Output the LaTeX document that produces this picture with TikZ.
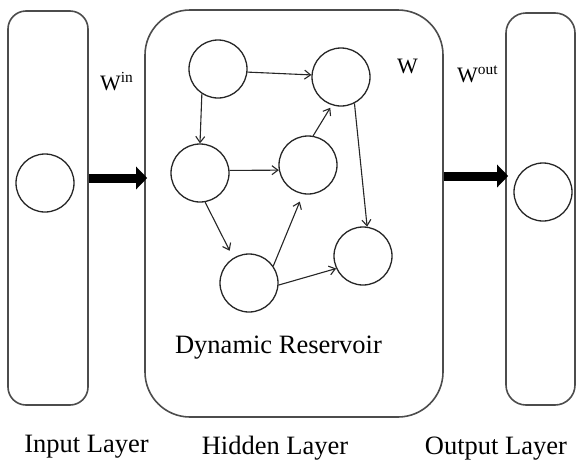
\documentclass[tikz,border=0pt]{standalone}
\usepackage{fontspec}
\setmainfont{Liberation Serif}
\usetikzlibrary{arrows.meta}
\begin{document}
\begin{tikzpicture}[x=1pt,y=-1pt,
  layer/.style={draw=black!70, line width=1.6pt, inner sep=0pt},
  neuron/.style={circle, draw=black!85, line width=1.3pt, minimum size=58pt, inner sep=0pt},
  link/.style={draw=black!85, line width=1.1pt, -{Straight Barb[length=6pt,width=9pt]}},
  bigarrow/.style={line width=9pt, -{Triangle[length=11pt,width=22pt]}, shorten >=-3pt},
  lab/.style={font=\fontsize{26.5}{30}\selectfont, anchor=base, inner sep=0pt},
  wlab/.style={font=\fontsize{22}{26}\selectfont, anchor=base west, inner sep=0pt}]
\useasboundingbox (0,0) rectangle (580,461);

% layer boxes
\node[layer, rounded corners=18pt, minimum width=80pt, minimum height=394pt] (inbox) at (48,208) {};
\node[layer, rounded corners=45pt, minimum width=298pt, minimum height=407pt] (hidbox) at (294,213.5) {};
\node[layer, rounded corners=20pt, minimum width=69pt, minimum height=392pt] (outbox) at (540.5,209) {};

% input / output neurons
\node[neuron] (in) at (45,183) {};
\node[neuron] (out) at (543,192) {};

% reservoir neurons
\node[neuron] (A) at (218,69) {};
\node[neuron] (B) at (341,77) {};
\node[neuron] (C) at (200,173) {};
\node[neuron] (D) at (308,165) {};
\node[neuron] (E) at (249,283) {};
\node[neuron] (F) at (363,256) {};

% reservoir connections
\draw[link] (A.-6) -- (B.176);
\draw[link] (A.-123) -- (C.90);
\draw[link] (C.5) -- (D.190);
\draw[link, shorten >=8pt] (C.-80) -- (E.122);
\draw[link, shorten >=3pt] (D.80) -- (B.-108);
\draw[link, shorten >=8pt] (E.35) -- (D.-100);
\draw[link] (E.-4) -- (F.205);
\draw[link] (B.-63) -- (F.82);

% thick arrows between layers
\coordinate (a1) at (88,178);
\coordinate (a2) at (443,176);
\draw[bigarrow] (inbox.east |- a1) -- (hidbox.west |- a1);
\draw[bigarrow] (hidbox.east |- a2) -- (outbox.west |- a2);

% weight labels
\node[wlab] (win) at (100,90) {W\textsuperscript{in}};
\node[wlab] (w) at (397,73) {W};
\node[wlab] (wout) at (457,82) {W\textsuperscript{out}};

% text labels
\node[lab] (dr) at (278.5,353) {Dynamic Reservoir};
\node[lab] (il) at (86.5,452) {Input Layer};
\node[lab] (hl) at (275,454) {Hidden Layer};
\node[lab] (ol) at (496,454) {Output Layer};
\end{tikzpicture}
\end{document}
